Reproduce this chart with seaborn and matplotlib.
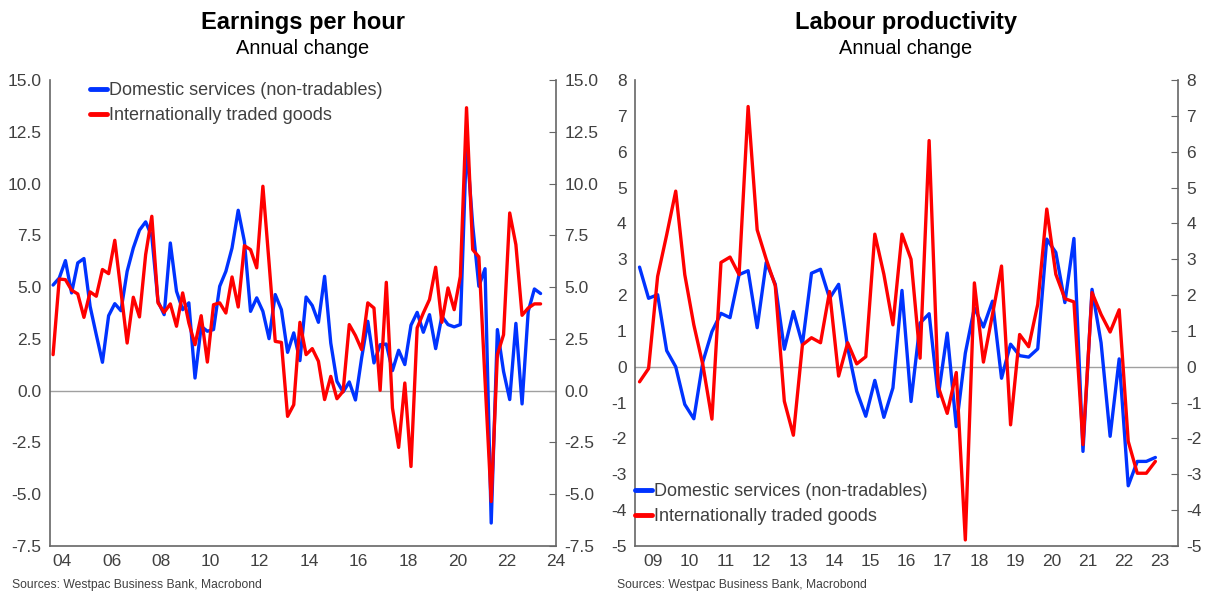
import numpy as np
import pandas as pd
import matplotlib.pyplot as plt
import seaborn as sns
from matplotlib.ticker import FixedLocator, FormatStrFormatter

# Earnings per hour, annual % change, 2003Q3 - 2023Q2
earn_quarters = pd.period_range("2003Q3", "2023Q2", freq="Q")
earn_domestic = [
    5.1, 5.44, 6.28, 4.72, 6.17, 6.38, 4.07, 2.7, 1.37, 3.62,
    4.2, 3.86, 5.76, 6.89, 7.75, 8.15, 7.45, 4.32, 3.67, 7.13,
    4.8, 3.91, 4.24, 0.61, 3.11, 2.87, 2.95, 5.04, 5.76, 6.89,
    8.71, 7.21, 3.83, 4.48, 3.83, 2.51, 4.64, 3.91, 1.85, 2.79,
    1.45, 4.52, 4.11, 3.3, 5.52, 2.3, 0.45, -0.06, 0.42, -0.45,
    1.58, 3.35, 1.34, 2.22, 2.25, 0.97, 1.95, 1.26, 3.16, 3.78,
    2.82, 3.67, 2.03, 3.59, 3.19, 3.08, 3.19, 12.0, 8.0, 5.04,
    5.89, -6.39, 2.95, 0.93, -0.43, 3.25, -0.64, 3.83, 4.91, 4.69,
]
earn_traded = [
    1.74, 5.39, 5.36, 4.85, 4.67, 3.54, 4.77, 4.56, 5.85, 5.65,
    7.26, 4.8, 2.3, 4.51, 3.56, 6.57, 8.42, 4.24, 3.78, 4.19,
    3.11, 4.72, 3.27, 2.22, 3.62, 1.38, 4.15, 4.24, 3.75, 5.49,
    4.04, 7.0, 6.81, 5.93, 9.87, 6.17, 2.38, 2.33, -1.24, -0.68,
    3.3, 1.74, 2.03, 1.42, -0.43, 0.69, -0.39, -0.03, 3.19, 2.66,
    1.98, 4.24, 3.99, 0.02, 5.23, -0.84, -2.74, 0.37, -3.66, 3.03,
    3.75, 4.4, 5.96, 3.3, 4.96, 3.91, 5.52, 13.66, 6.81, 6.46,
    0.5, -5.35, 1.74, 2.7, 8.58, 7.05, 3.64, 3.99, 4.19, 4.19,
]

# Labour productivity, annual % change, 2009Q1 - 2023Q2
prod_quarters = pd.period_range("2009Q1", "2023Q2", freq="Q")
prod_domestic = [
    2.78, 1.91, 2.01, 0.45, 0.0, -1.05, -1.45, 0.14, 0.98, 1.49,
    1.37, 2.57, 2.68, 1.09, 2.91, 2.3, 0.49, 1.54, 0.63, 2.61,
    2.72, 1.91, 2.3, 0.53, -0.68, -1.38, -0.38, -1.41, -0.59, 2.13,
    -0.97, 1.22, 1.48, -0.83, 0.94, -1.67, 0.38, 1.64, 1.11, 1.83,
    -0.32, 0.63, 0.31, 0.27, 0.5, 3.56, 3.19, 1.79, 3.58, -2.36,
    2.16, 0.67, -1.94, 0.22, -3.32, -2.64, -2.64, -2.53,
]
prod_traded = [
    -0.42, -0.05, 2.52, 3.68, 4.9, 2.57, 1.17, 0.05, -1.46, 2.91,
    3.06, 2.57, 7.26, 3.82, 3.0, 2.26, -0.96, -1.91, 0.61, 0.81,
    0.67, 2.1, -0.26, 0.67, 0.08, 0.28, 3.7, 2.58, 1.17, 3.7,
    3.0, 0.24, 6.31, -0.55, -1.3, -0.16, -4.83, 2.34, 0.13, 1.46,
    2.81, -1.62, 0.9, 0.56, 1.74, 4.4, 2.58, 1.9, 1.81, -2.17,
    2.07, 1.46, 0.97, 1.59, -2.08, -2.97, -2.97, -2.64,
]

series_names = ["Domestic services (non-tradables)", "Internationally traded goods"]
colors = ["#0033ff", "#ff0000"]
text_color = "#404040"
spine_color = "#666666"
source = "Sources: Westpac Business Bank, Macrobond"


def to_frame(quarters, domestic, traded):
    # mid-quarter decimal year
    x = quarters.year + (quarters.quarter - 1) / 4 + 0.125
    df = pd.DataFrame({"date": x, series_names[0]: domestic, series_names[1]: traded})
    return df.melt(id_vars="date", var_name="series", value_name="value")


sns.set_style("white")
plt.rcParams["font.family"] = ["Liberation Sans", "DejaVu Sans"]
plt.rcParams["axes.unicode_minus"] = False

fig = plt.figure(figsize=(12.09, 5.92), dpi=100)
ax1 = fig.add_axes([50 / 1209, 46 / 592, 506 / 1209, 466 / 592])
ax2 = fig.add_axes([635 / 1209, 46 / 592, 543 / 1209, 466 / 592])

for ax, df in [
    (ax1, to_frame(earn_quarters, earn_domestic, earn_traded)),
    (ax2, to_frame(prod_quarters, prod_domestic, prod_traded)),
]:
    ax.axhline(0, color="#a0a0a0", lw=1, zorder=1)
    sns.lineplot(
        data=df, x="date", y="value", hue="series", hue_order=series_names,
        palette=colors, estimator=None, linewidth=2.4, ax=ax,
    )
    ax.set(xlabel="", ylabel="")
    for s in ["left", "right", "bottom"]:
        ax.spines[s].set_color(spine_color)
        ax.spines[s].set_linewidth(1.2)
    ax.spines["top"].set_visible(False)
    ax.tick_params(
        axis="both", which="major", direction="in", length=5, color=spine_color,
        labelsize=12.5, labelcolor=text_color,
    )
    ax.tick_params(axis="y", right=True, labelright=True, pad=6)

# Earnings per hour
ax1.set_xlim(2003.5, 2024)
ax1.set_ylim(-7.5, 15)
ax1.set_yticks(np.arange(-7.5, 15.01, 2.5))
ax1.yaxis.set_major_formatter(FormatStrFormatter("%.1f"))
ax1.set_xticks(range(2004, 2025, 2))
ax1.set_xticklabels([f"{y % 100:02d}" for y in range(2004, 2025, 2)])
ax1.tick_params(axis="x", pad=6)
leg = ax1.legend(
    loc="upper left", bbox_to_anchor=(0.079, 0.995), frameon=False, fontsize=13,
    handlelength=0.95, handletextpad=0.12, borderpad=0, borderaxespad=0,
    labelspacing=0.42, labelcolor=text_color,
)
for h in leg.get_lines():
    h.set_linewidth(3.5)

# Labour productivity
ax2.set_xlim(2009, 2024)
ax2.set_ylim(-5, 8)
ax2.set_yticks(range(-5, 9))
ax2.xaxis.set_major_locator(FixedLocator(range(2010, 2024)))
ax2.xaxis.set_minor_locator(FixedLocator(np.arange(2009.5, 2024, 1)))
ax2.xaxis.set_major_formatter(plt.NullFormatter())
ax2.xaxis.set_minor_formatter(
    plt.FixedFormatter([f"{y % 100:02d}" for y in range(2009, 2024)])
)
ax2.tick_params(
    axis="x", which="minor", length=0, labelsize=12.5, labelcolor=text_color, pad=6
)
leg = ax2.legend(
    loc="lower left", bbox_to_anchor=(0.0, 0.045), frameon=False, fontsize=13,
    handlelength=0.95, handletextpad=0.12, borderpad=0, borderaxespad=0,
    labelspacing=0.42, labelcolor=text_color,
)
for h in leg.get_lines():
    h.set_linewidth(3.5)

# Titles and sources
for cx, title in [(303 / 1209, "Earnings per hour"), (906 / 1209, "Labour productivity")]:
    fig.text(cx, 1 - 22 / 592, title, ha="center", va="center", fontsize=17,
             fontweight="bold", color="black")
    fig.text(cx, 1 - 49 / 592, "Annual change", ha="center", va="center",
             fontsize=14.4, color="black")
fig.text(12 / 1209, 1 - 585 / 592, source, ha="left", va="center", fontsize=8.7,
         color=text_color)
fig.text(617 / 1209, 1 - 585 / 592, source, ha="left", va="center", fontsize=8.7,
         color=text_color)

fig.savefig("out.png", dpi=100)
